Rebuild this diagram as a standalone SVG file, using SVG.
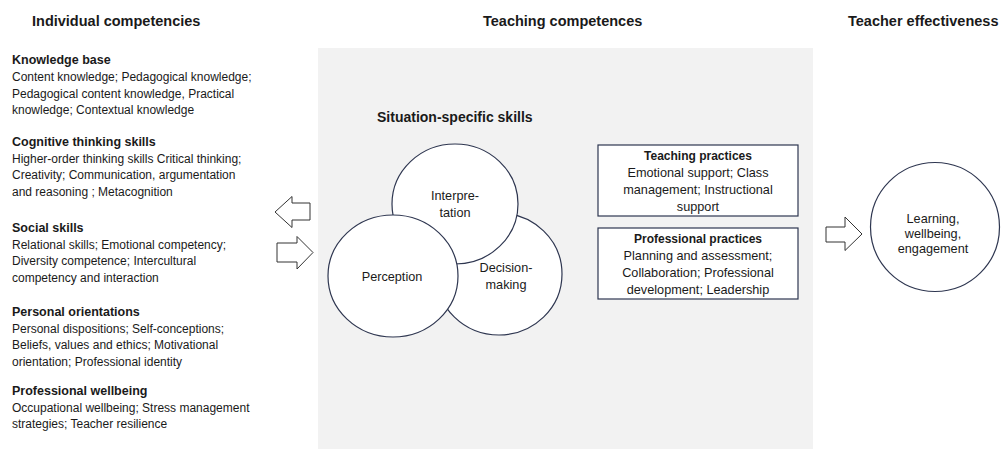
<svg xmlns="http://www.w3.org/2000/svg" width="1001" height="449" viewBox="0 0 1001 449">
  <style>
    text { font-family: "Liberation Sans", Arial, sans-serif; fill: #1a1a1a; }
    .title { font-size: 14.5px; font-weight: bold; }
    .head { font-size: 12.5px; font-weight: bold; }
    .body { font-size: 12px; }
    .ctr { text-anchor: middle; }
    .node { font-size: 12.7px; }
    .circle { fill: #ffffff; stroke: #2e3650; stroke-width: 1.2; }
    .box { fill: #ffffff; stroke: #2e3650; stroke-width: 1.2; }
    .arrow { fill: #ffffff; stroke: #333333; stroke-width: 1; stroke-linejoin: miter; }
  </style>

  <rect x="0" y="0" width="1001" height="449" fill="#ffffff"/>

  <!-- Teaching competences panel -->
  <rect id="panel" x="318" y="48" width="495" height="401" fill="#f2f2f2"/>

  <!-- Column headings -->
  <g id="headings">
    <text class="title" x="32" y="26">Individual competencies</text>
    <text class="title" x="483" y="26">Teaching competences</text>
    <text class="title" x="848" y="26">Teacher effectiveness</text>
  </g>

  <!-- Individual competencies list -->
  <g id="knowledge-base">
    <text class="head" x="12" y="64">Knowledge base</text>
    <text class="body" x="12" y="81">Content knowledge; Pedagogical knowledge;</text>
    <text class="body" x="12" y="97.5">Pedagogical content knowledge, Practical</text>
    <text class="body" x="12" y="114">knowledge; Contextual knowledge</text>
  </g>
  <g id="cognitive-skills">
    <text class="head" x="12" y="146">Cognitive thinking skills</text>
    <text class="body" x="12" y="162.5">Higher-order thinking skills Critical thinking;</text>
    <text class="body" x="12" y="179">Creativity; Communication, argumentation</text>
    <text class="body" x="12" y="195.5">and reasoning ; Metacognition</text>
  </g>
  <g id="social-skills">
    <text class="head" x="12" y="232">Social skills</text>
    <text class="body" x="12" y="248.5">Relational skills; Emotional competency;</text>
    <text class="body" x="12" y="265">Diversity competence; Intercultural</text>
    <text class="body" x="12" y="281.5">competency and interaction</text>
  </g>
  <g id="personal-orientations">
    <text class="head" x="12" y="316">Personal orientations</text>
    <text class="body" x="12" y="332.5">Personal dispositions; Self-conceptions;</text>
    <text class="body" x="12" y="349">Beliefs, values and ethics; Motivational</text>
    <text class="body" x="12" y="365.5">orientation; Professional identity</text>
  </g>
  <g id="professional-wellbeing">
    <text class="head" x="12" y="395">Professional wellbeing</text>
    <text class="body" x="12" y="411.5">Occupational wellbeing; Stress management</text>
    <text class="body" x="12" y="428">strategies; Teacher resilience</text>
  </g>

  <!-- Situation-specific skills -->
  <g id="situation-skills">
    <text class="head" x="377" y="122" style="font-size:14px">Situation-specific skills</text>
  </g>
  <g id="decision-making">
    <ellipse class="circle" cx="499" cy="274" rx="63" ry="61"/>
    <text class="node ctr" x="506" y="272">Decision-</text>
    <text class="node ctr" x="506" y="289">making</text>
  </g>
  <g id="interpretation">
    <ellipse class="circle" cx="455" cy="204" rx="63" ry="60"/>
    <text class="node ctr" x="455" y="200">Interpre-</text>
    <text class="node ctr" x="455" y="217">tation</text>
  </g>
  <g id="perception">
    <ellipse class="circle" cx="393" cy="276" rx="65" ry="61"/>
    <text class="node ctr" x="392" y="281">Perception</text>
  </g>

  <!-- Practice boxes -->
  <g id="teaching-practices">
    <rect class="box" x="598" y="145" width="200" height="71"/>
    <text class="head ctr" x="698" y="160" style="font-size:12px">Teaching practices</text>
    <text class="node ctr" x="698" y="177">Emotional support; Class</text>
    <text class="node ctr" x="698" y="194">management; Instructional</text>
    <text class="node ctr" x="698" y="211">support</text>
  </g>
  <g id="professional-practices">
    <rect class="box" x="598" y="228" width="200" height="71"/>
    <text class="head ctr" x="698" y="243" style="font-size:12px">Professional practices</text>
    <text class="node ctr" x="698" y="260">Planning and assessment;</text>
    <text class="node ctr" x="698" y="277">Collaboration; Professional</text>
    <text class="node ctr" x="698" y="294">development; Leadership</text>
  </g>

  <!-- Teacher effectiveness outcome -->
  <g id="outcomes">
    <circle class="circle" cx="935" cy="227" r="64.5"/>
    <text class="node ctr" x="933" y="223">Learning,</text>
    <text class="node ctr" x="933" y="238">wellbeing,</text>
    <text class="node ctr" x="933" y="253">engagement</text>
  </g>

  <!-- Block arrows between columns -->
  <g id="connectors">
    <polygon class="arrow" points="310,203 292,203 292,196.5 275,212 292,227.5 292,220 310,220"/>
    <polygon class="arrow" points="277,243 297,243 297,236.5 313,252.5 297,269 297,262 277,262"/>
    <polygon class="arrow" points="826,227 845,227 845,217 862,234 845,250.5 845,242 826,242"/>
  </g>
</svg>
